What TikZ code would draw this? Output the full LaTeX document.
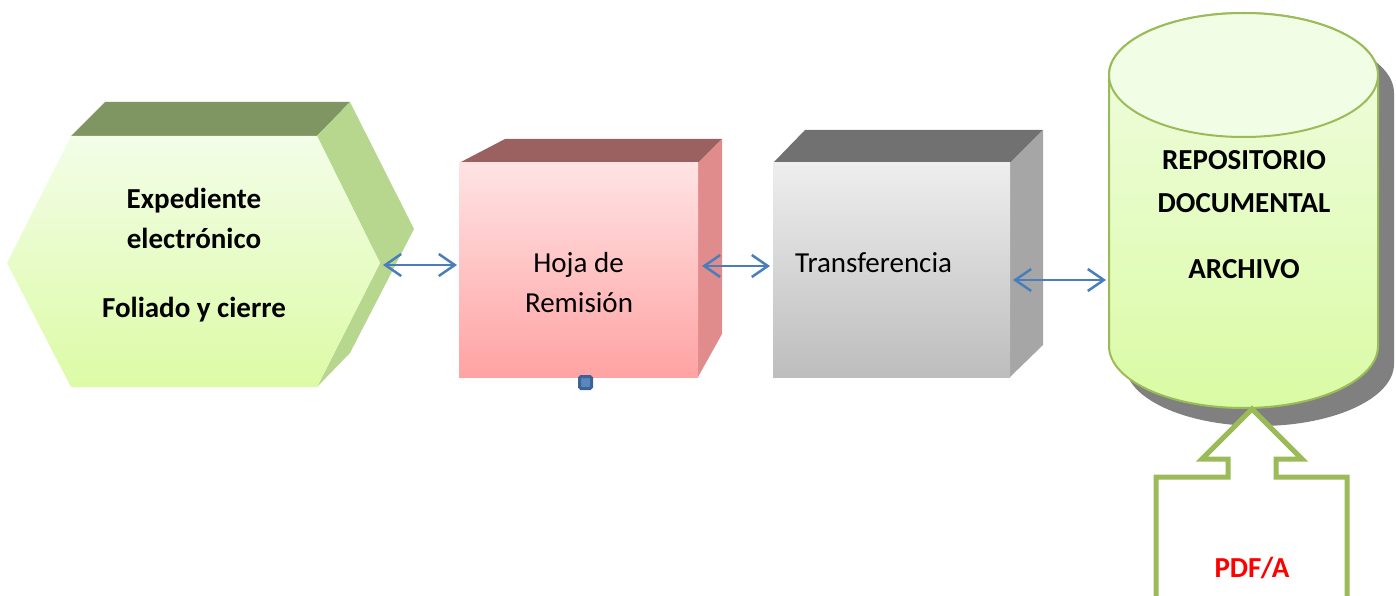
\documentclass[tikz,border=0pt]{standalone}
\usepackage{fontspec}
\setmainfont{Carlito}
\usetikzlibrary{arrows.meta}
\definecolor{hexfaceT}{HTML}{F3FDE8}
\definecolor{hexfaceB}{HTML}{DCFBA6}
\definecolor{hextop}{HTML}{7F9662}
\definecolor{hexside}{HTML}{B8D78E}
\definecolor{pinkT}{HTML}{FFE3E4}
\definecolor{pinkB}{HTML}{FFA3A3}
\definecolor{pinktop}{HTML}{9B6161}
\definecolor{pinkside}{HTML}{E08C8C}
\definecolor{grayT}{HTML}{EEEEEE}
\definecolor{grayB}{HTML}{BDBDBD}
\definecolor{graytop}{HTML}{717171}
\definecolor{grayside}{HTML}{A6A6A6}
\definecolor{cylT}{HTML}{F1FDE4}
\definecolor{cylB}{HTML}{DAFBA4}
\definecolor{cylline}{HTML}{9BBB59}
\definecolor{shadowgray}{HTML}{808080}
\definecolor{arrowblue}{HTML}{4A7EBB}
\definecolor{handle}{HTML}{3A6396}
\definecolor{handlein}{HTML}{5B86BE}
\tikzset{
  lbl/.style={font=\fontsize{29}{35}\selectfont, inner sep=0pt, anchor=base},
  lblb/.style={lbl, font=\fontsize{29}{35}\selectfont\bfseries},
  dbl/.style={draw=arrowblue, line width=2.5pt,
    {Straight Barb[length=16pt,width=22pt,line width=2.5pt]}-{Straight Barb[length=16pt,width=22pt,line width=2.5pt]}},
}
\begin{document}
\begin{tikzpicture}[x=1pt,y=-1pt]
\useasboundingbox (0,0) rectangle (1396,596);
% ---- hexagon (Expediente)
\fill[hextop] (71,136) -- (105,102) -- (350,102) -- (317,136) -- cycle;
\fill[hexside] (317,136) -- (350,102) -- (414,229) -- (350,353) -- (317,387) -- (380,263) -- cycle;
\shade[top color=hexfaceT, bottom color=hexfaceB] (71,136) -- (317,136) -- (380,263) -- (317,387) -- (71,387) -- (7,263) -- cycle;
\node[lblb] (exp1) at (194,208) {Expediente};
\node[lblb] (exp2) at (194,248) {electrónico};
\node[lblb] (exp3) at (194,317) {Foliado y cierre};
% ---- pink cube (Hoja de Remision)
\fill[pinktop] (459,163) -- (505,139) -- (722,139) -- (698,163) -- cycle;
\fill[pinkside] (698,163) -- (722,139) -- (722,334) -- (698,377) -- cycle;
\shade[top color=pinkT, bottom color=pinkB] (459,163) rectangle (698,377);
\node[lbl] (hoja1) at (578.5,272) {Hoja de};
\node[lbl] (hoja2) at (579,312) {Remisión};
\node[draw=handle, fill=handlein, line width=3pt, rounded corners=1.5pt, minimum size=12pt, inner sep=0pt] (handle) at (585.5,382.5) {};
% ---- gray cube (Transferencia)
\fill[graytop] (773,163) -- (805,130) -- (1043,130) -- (1010,163) -- cycle;
\fill[grayside] (1010,163) -- (1043,130) -- (1043,345) -- (1010,377) -- cycle;
\shade[top color=grayT, bottom color=grayB] (773,163) rectangle (1010,377);
\node[lbl, anchor=base west] (trans) at (795,272) {Transferencia};
% ---- cylinder (Repositorio)
\begin{scope}[shift={(16,18)}]
\fill[shadowgray] (1109,75) -- (1109,346) arc[start angle=180, end angle=0, x radius=134.5, y radius=62]
  -- (1378,75) arc[start angle=0, end angle=-180, x radius=134.5, y radius=62] -- cycle;
\end{scope}
\shade[top color=cylT, bottom color=cylB, draw=cylline, line width=2pt]
  (1109,75) -- (1109,346) arc[start angle=180, end angle=0, x radius=134.5, y radius=62]
  -- (1378,75) arc[start angle=0, end angle=-180, x radius=134.5, y radius=62] -- cycle;
\filldraw[fill=cylT, draw=cylline, line width=2pt] (1243.5,75) ellipse[x radius=134.5, y radius=62];
\node[lblb] (rep1) at (1244,170) {REPOSITORIO};
\node[lblb] (rep2) at (1244,212) {DOCUMENTAL};
\node[lblb] (rep3) at (1244,278) {ARCHIVO};
% ---- block arrow (PDF/A)
\filldraw[fill=white, draw=cylline, line width=5pt, line join=miter]
  (1156,605) -- (1156,477) -- (1228,477) -- (1228,459) -- (1202,459) -- (1252,409)
  -- (1302,459) -- (1276,459) -- (1276,477) -- (1347,477) -- (1347,605);
\node[lblb, text=red] (pdfa) at (1252,577) {PDF/A};
% ---- connectors
\coordinate (hexR) at (383,265);
\coordinate (hojaL) at (457,265);
\coordinate (hojaR) at (702,266);
\coordinate (transL) at (770,266);
\coordinate (transR) at (1013,280);
\coordinate (cylL) at (1106,280);
\draw[dbl] (hexR) -- (hojaL);
\draw[dbl] (hojaR) -- (transL);
\draw[dbl] (transR) -- (cylL);
\end{tikzpicture}
\end{document}
